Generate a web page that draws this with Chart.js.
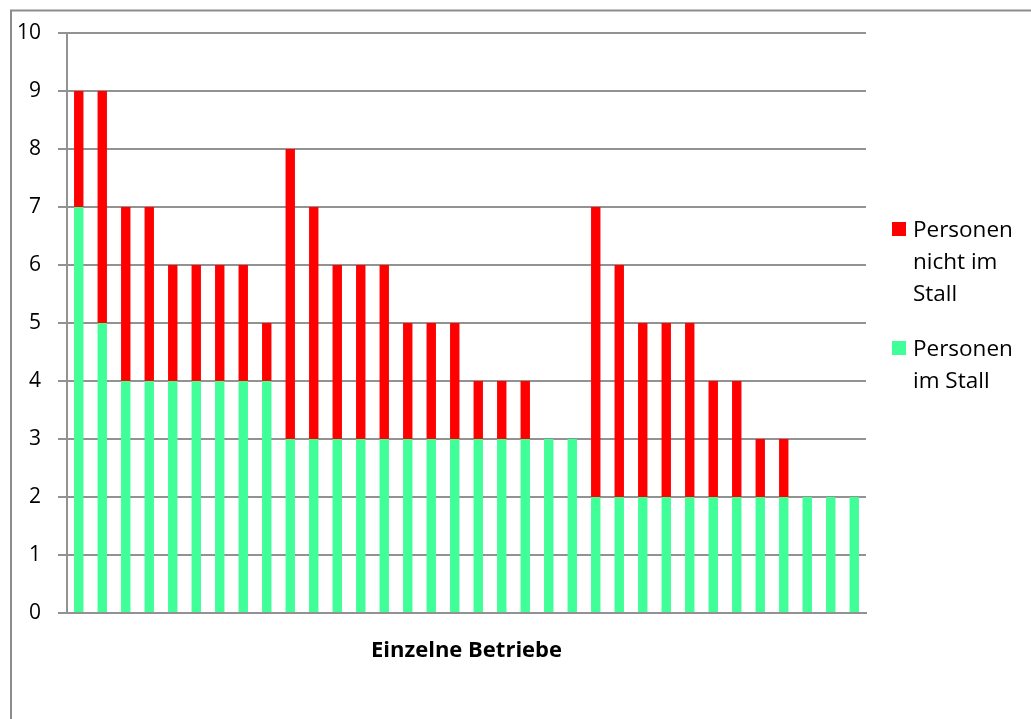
<!DOCTYPE html>
<html>
<head>
<meta charset="utf-8">
<script src="https://cdn.jsdelivr.net/npm/chart.js@4/dist/chart.umd.min.js"></script>
<style>
  html, body { margin: 0; padding: 0; background: #fff; }
  #wrap { position: relative; width: 1031px; height: 719px; }
  canvas { display: block; }
</style>
</head>
<body>
<div id="wrap"><canvas id="c" width="1031" height="719"></canvas></div>
<script>
// ---- data ----
const categories = Array.from({length: 34}, (_, i) => String(i + 1));
const imStall =      [7,5,4,4,4,4,4,4,4,3,3,3,3,3,3,3,3,3,3,3,3,3,2,2,2,2,2,2,2,2,2,2,2,2];
const nichtImStall = [2,4,3,3,2,2,2,2,1,5,4,3,3,3,2,2,2,1,1,1,0,0,5,4,3,3,3,2,2,1,1,0,0,0];
const seriesNames = ["Personen im Stall", "Personen nicht im Stall"];
const legendLines = [["Personen", "nicht im", "Stall"], ["Personen", "im Stall"]];
const yTicks = [0,1,2,3,4,5,6,7,8,9,10];
const xTitle = "Einzelne Betriebe";

const GREEN = '#40FF98';
const RED = '#FF0000';
const GRID = '#929292';
const FONT = '"Open Sans", "Noto Sans", sans-serif';

const framePlugin = {
  id: 'frame',
  beforeDraw(chart) {
    const ctx = chart.ctx;
    ctx.save();
    ctx.fillStyle = '#fff';
    ctx.fillRect(0, 0, chart.width, chart.height);
    ctx.strokeStyle = '#8c8c8c';
    ctx.lineWidth = 2;
    ctx.strokeRect(11, 10.5, chart.width + 50, chart.height + 50);
    ctx.restore();
  }
};

const legendPlugin = {
  id: 'sideLegend',
  afterDraw(chart) {
    const ctx = chart.ctx;
    const area = chart.chartArea;
    ctx.save();
    ctx.font = '22.5px ' + FONT;
    ctx.fillStyle = '#000';
    ctx.textBaseline = 'alphabetic';
    ctx.textAlign = 'left';
    const boxX = area.right + 26;
    const textX = boxX + 21;
    let top = 222;
    const order = [1, 0];
    order.forEach((dsIndex, k) => {
      const ds = chart.data.datasets[dsIndex];
      ctx.fillStyle = ds.backgroundColor;
      ctx.fillRect(boxX, top, 14, 14);
      ctx.fillStyle = '#000';
      const lines = legendLines[k];
      lines.forEach((ln, i) => {
        ctx.fillText(ln, textX, top + 15 + i * 32);
      });
      top = top + lines.length * 32 + 23;
    });
    ctx.restore();
  }
};

new Chart(document.getElementById('c'), {
  type: 'bar',
  data: {
    labels: categories,
    datasets: [
      { label: seriesNames[0], data: imStall, backgroundColor: GREEN, borderWidth: 0,
        barPercentage: 0.8, categoryPercentage: 0.5 },
      { label: seriesNames[1], data: nichtImStall, backgroundColor: RED, borderWidth: 0,
        barPercentage: 0.8, categoryPercentage: 0.5 }
    ]
  },
  options: {
    responsive: false,
    animation: false,
    devicePixelRatio: 1,
    layout: { padding: { left: 0, top: 33, right: 165, bottom: 0 } },
    plugins: { legend: { display: false }, tooltip: { enabled: false } },
    scales: {
      x: {
        stacked: true,
        grid: { display: false },
        border: { display: true, color: GRID, width: 2 },
        ticks: { display: false },
        title: {
          display: true, text: xTitle, color: '#000',
          font: { family: FONT, size: 22, weight: 'bold' },
          padding: { top: 0, bottom: 55 }
        },
        afterFit(scale) { scale.height = 106; }
      },
      y: {
        stacked: true,
        min: 0, max: 10,
        afterBuildTicks(scale) { scale.ticks = yTicks.map(v => ({ value: v })); },
        grid: { color: GRID, lineWidth: 2, tickLength: 9, drawTicks: true },
        border: { display: true, color: GRID, width: 2 },
        ticks: { color: '#000', padding: 17, font: { family: FONT, size: 21 } },
        afterFit(scale) { scale.width = 67; }
      }
    }
  },
  plugins: [framePlugin, legendPlugin]
});
</script>
</body>
</html>
